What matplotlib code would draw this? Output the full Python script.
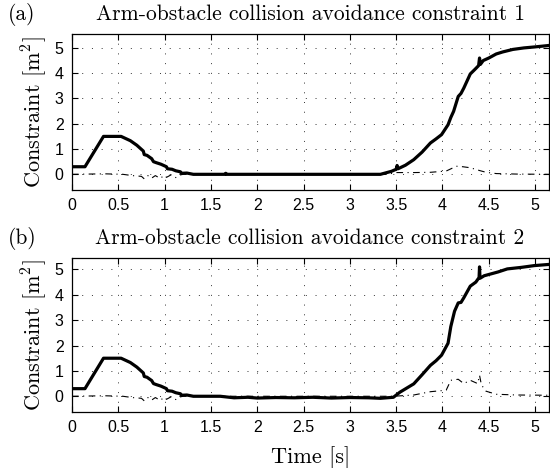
import matplotlib
matplotlib.use("Agg")
import matplotlib.pyplot as plt

plt.rcParams['mathtext.fontset'] = 'cm'
plt.rcParams['axes.unicode_minus'] = False

# panel (a)
t_a = [0, 0.14, 0.34, 0.53, 0.63, 0.7, 0.77, 0.78, 0.81, 0.86, 0.88, 0.91, 0.96, 1.02, 1.03, 1.08, 1.12, 1.17,
       1.18, 1.24, 1.31, 1.65, 1.66, 1.67, 3.33,
       3.45, 3.5, 3.51, 3.52, 3.6, 3.69, 3.78, 3.87, 3.93, 3.99, 4.06, 4.09, 4.12, 4.17, 4.2, 4.23, 4.3, 4.35,
       4.39, 4.4, 4.41, 4.44, 4.5, 4.58, 4.65, 4.76, 4.88, 5.0, 5.16]
c1_a = [0.3, 0.3, 1.5, 1.5, 1.33, 1.15, 0.92, 0.78, 0.75, 0.62, 0.5, 0.46, 0.4, 0.3, 0.22, 0.2, 0.14, 0.1,
        0.04, 0.05, 0.0, 0.0, 0.04, 0.0, 0.0,
        0.12, 0.2, 0.35, 0.22, 0.36, 0.58, 0.88, 1.24, 1.4, 1.57, 1.96, 2.25, 2.49, 3.08, 3.2, 3.41, 3.97, 4.15,
        4.3, 4.6, 4.35, 4.5, 4.6, 4.76, 4.84, 4.94, 5.0, 5.04, 5.1]
t_a2 = [0, 0.35, 0.55, 0.65, 0.75, 0.78, 0.82, 0.86, 0.9, 0.95, 1.0, 1.02, 1.07, 1.12, 1.16, 1.2, 1.3, 3.4, 3.5,
        3.7, 3.87, 4.04, 4.15, 4.22, 4.3, 4.4, 4.47, 4.58, 4.8, 5.15]
c2_a = [0.0, 0.02, 0.0, -0.05, -0.08, -0.18, -0.05, -0.15, -0.05, -0.16, -0.04, -0.12, -0.02, -0.13, -0.03, 0.0,
        0.0, 0.0, 0.07, 0.07, 0.08, 0.13, 0.32, 0.3, 0.26, 0.15, 0.08, 0.03, 0.01, 0.0]

# panel (b)
t_b = [0, 0.14, 0.34, 0.53, 0.63, 0.7, 0.77, 0.78, 0.81, 0.86, 0.88, 0.91, 0.96, 1.02, 1.03, 1.08, 1.12, 1.17,
       1.18, 1.24, 1.31, 1.6, 1.75, 1.9, 2.0, 2.2, 2.4, 2.6, 2.8, 3.0, 3.2, 3.33, 3.47,
       3.54, 3.69, 3.78, 3.87, 3.93, 3.99, 4.06, 4.09, 4.13, 4.17, 4.2, 4.23, 4.3, 4.36, 4.395, 4.4, 4.405,
       4.45, 4.52, 4.6, 4.7, 4.85, 4.99, 5.16]
c1_b = [0.3, 0.3, 1.5, 1.5, 1.33, 1.15, 0.92, 0.78, 0.75, 0.62, 0.5, 0.46, 0.4, 0.3, 0.22, 0.2, 0.14, 0.1,
        0.04, 0.05, 0.0, 0.0, -0.06, -0.04, -0.07, -0.05, -0.06, -0.04, -0.07, -0.05, -0.06, -0.08, -0.04,
        0.16, 0.49, 0.85, 1.22, 1.4, 1.62, 2.09, 2.75, 3.35, 3.68, 3.7, 3.88, 4.34, 4.5, 4.68, 5.1, 4.65,
        4.75, 4.82, 4.9, 5.02, 5.08, 5.15, 5.2]
t_b2 = [0, 0.35, 0.55, 0.65, 0.75, 0.78, 0.82, 0.86, 0.9, 0.95, 1.0, 1.02, 1.07, 1.12, 1.16, 1.2, 1.3, 3.47, 3.69,
        3.87, 4.04, 4.09, 4.17, 4.23, 4.3, 4.38, 4.4, 4.42, 4.47, 4.58, 4.8, 5.15]
c2_b = [0.0, 0.02, 0.0, -0.05, -0.08, -0.18, -0.05, -0.15, -0.05, -0.16, -0.04, -0.12, -0.02, -0.13, -0.03, 0.0,
        0.0, 0.0, 0.05, 0.18, 0.24, 0.63, 0.67, 0.5, 0.63, 0.5, 0.83, 0.45, 0.2, 0.08, 0.05, 0.04]

titles = ["Arm-obstacle collision avoidance constraint 1", "Arm-obstacle collision avoidance constraint 2"]
labels = ["(a)", "(b)"]
xticks = [0, 0.5, 1, 1.5, 2, 2.5, 3, 3.5, 4, 4.5, 5]
xticklabels = ["0", "0.5", "1", "1.5", "2", "2.5", "3", "3.5", "4", "4.5", "5"]
yticks = [0, 1, 2, 3, 4, 5]

fig = plt.figure(figsize=(5.5, 4.68), dpi=100)
ax1 = fig.add_axes([72 / 550, 1 - 190 / 468, 477 / 550, 156 / 468])
ax2 = fig.add_axes([72 / 550, 1 - 412 / 468, 477 / 550, 154 / 468])

data = [(t_a, c1_a, t_a2, c2_a, 5.55, 14), (t_b, c1_b, t_b2, c2_b, 5.45, 238)]
for i, ax in enumerate([ax1, ax2]):
    t1, y1, t2, y2, ytop, ty = data[i]
    ax.plot(t1, y1, color="black", lw=2.3)
    ax.plot(t2, y2, color="black", lw=0.8, ls=(0, (6, 4, 1, 4)))
    ax.set_xlim(0, 5.15)
    ax.set_ylim(-0.62, ytop)
    ax.set_xticks(xticks)
    ax.set_xticklabels(xticklabels, family="Liberation Sans", fontsize=11.5)
    ax.set_yticks(yticks)
    ax.set_yticklabels([str(v) for v in yticks], family="Liberation Sans", fontsize=11.5)
    ax.tick_params(direction="in", top=True, right=True, length=4, width=0.8, pad=6)
    ax.grid(True, color="#333333", ls=(0, (1, 9)), lw=0.7)
    for sp in ax.spines.values():
        sp.set_linewidth(0.9)
    ax.set_ylabel(r"Constraint [m$^2$]", family="cmr10", fontsize=16, labelpad=4)
    fig.text(310 / 550, 1 - ty / 468, titles[i], family="cmr10", fontsize=15.5, ha="center", va="center")
    fig.text(8 / 550, 1 - ty / 468, labels[i], family="cmr10", fontsize=15.5, ha="left", va="center")

ax2.set_xlabel("Time [s]", family="cmr10", fontsize=16, labelpad=8)

fig.savefig("out.png", dpi=100)
